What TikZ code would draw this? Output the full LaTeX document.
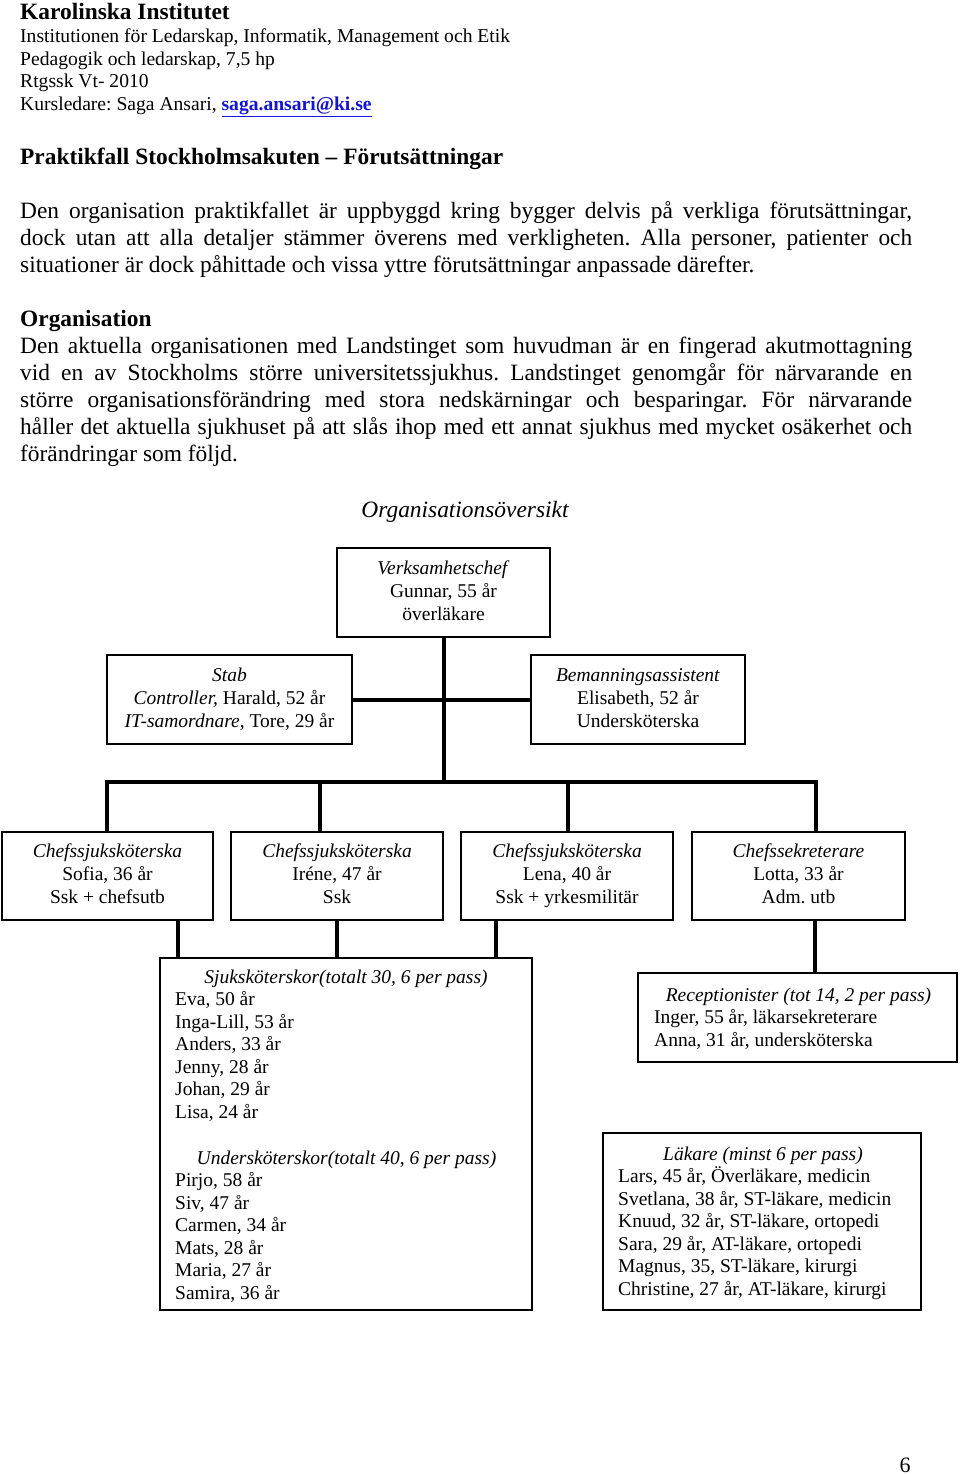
\documentclass[tikz,border=0pt]{standalone}
\usepackage{fontspec}
\setmainfont{Liberation Serif}
\frenchspacing
\newcommand\chartfont{\fontsize{19.5}{23}\selectfont}
\newcommand\bodyfont{\fontsize{23.4}{27}\selectfont}
\newcommand\headfont{\fontsize{19.6}{22.5}\selectfont}
\newcommand\jline[1]{\makebox[892pt][s]{#1}}
\definecolor{linkblue}{RGB}{20,20,210}
\tikzset{
  box/.style={draw, line width=1.5pt, inner sep=0pt, align=center, font=\chartfont},
  conn/.style={line width=4pt},
  txt/.style={anchor=base west, inner sep=0pt},
  ctxt/.style={anchor=base, inner sep=0pt},
}
\begin{document}
\begin{tikzpicture}[x=1pt,y=-1pt]
\useasboundingbox[fill=white] (0,0) rectangle (960,1474);
% header
\node[txt, font=\fontsize{23.4}{27}\selectfont\bfseries] (h1) at (20,20) {Karolinska Institutet};
\node[txt, font=\headfont] (h2) at (20,43) {Institutionen för Ledarskap, Informatik, Management och Etik};
\node[txt, font=\headfont] (h3) at (20,65.5) {Pedagogik och ledarskap, 7,5 hp};
\node[txt, font=\headfont] (h4) at (20,88) {Rtgssk Vt- 2010};
\node[txt, font=\headfont] (h5) at (20,110.5) {Kursledare: Saga Ansari, \textcolor{linkblue}{\underline{\textbf{saga.ansari@ki.se}}}};
\node[txt, font=\bodyfont\bfseries] (t1) at (20,164.5) {Praktikfall Stockholmsakuten – Förutsättningar};
\node[txt, font=\bodyfont] (p1) at (20,218.5) {\jline{Den organisation praktikfallet är uppbyggd kring bygger delvis på verkliga förutsättningar,}};
\node[txt, font=\bodyfont] (p2) at (20,245.5) {\jline{dock utan att alla detaljer stämmer överens med verkligheten. Alla personer, patienter och}};
\node[txt, font=\bodyfont] (p3) at (20,272.5) {situationer är dock påhittade och vissa yttre förutsättningar anpassade därefter.};
\node[txt, font=\bodyfont\bfseries] (t2) at (20,326.5) {Organisation};
\node[txt, font=\bodyfont] (q1) at (20,353.5) {\jline{Den aktuella organisationen med Landstinget som huvudman är en fingerad akutmottagning}};
\node[txt, font=\bodyfont] (q2) at (20,380.5) {\jline{vid en av Stockholms större universitetssjukhus. Landstinget genomgår för närvarande en}};
\node[txt, font=\bodyfont] (q3) at (20,407.5) {\jline{större organisationsförändring med stora nedskärningar och besparingar. För närvarande}};
\node[txt, font=\bodyfont] (q4) at (20,434.5) {\jline{håller det aktuella sjukhuset på att slås ihop med ett annat sjukhus med mycket osäkerhet och}};
\node[txt, font=\bodyfont] (q5) at (20,461.5) {förändringar som följd.};
\node[ctxt, font=\bodyfont\itshape] (ov) at (465,517.5) {Organisationsöversikt};
% chart boxes
\node[box, minimum width=213pt, minimum height=89pt] (vc) at (443.5,592.5) {\strut\textit{Verksamhetschef}\\Gunnar, 55 år\\överläkare\strut};
\node[box, minimum width=245pt, minimum height=89pt] (stab) at (229.5,699.5) {\strut\textit{Stab}\\\textit{Controller,} Harald, 52 år\\\textit{IT-samordnare,} Tore, 29 år\strut};
\node[box, minimum width=214pt, minimum height=89pt] (beman) at (638,699.5) {\strut\textit{Bemanningsassistent}\\Elisabeth, 52 år\\Undersköterska\strut};
\node[box, minimum width=211pt, minimum height=88pt] (c1) at (107.5,876) {\strut\textit{Chefssjuksköterska}\\Sofia, 36 år\\Ssk + chefsutb\strut};
\node[box, minimum width=212pt, minimum height=88pt] (c2) at (337,876) {\strut\textit{Chefssjuksköterska}\\Iréne, 47 år\\Ssk\strut};
\node[box, minimum width=212pt, minimum height=88pt] (c3) at (567,876) {\strut\textit{Chefssjuksköterska}\\Lena, 40 år\\Ssk + yrkesmilitär\strut};
\node[box, minimum width=213pt, minimum height=88pt] (c4) at (798.5,876) {\strut\textit{Chefssekreterare}\\Lotta, 33 år\\Adm. utb\strut};
\node[box, minimum width=372pt, minimum height=352pt] (sjuk) at (346,1134) {};
\node[box, minimum width=319pt, minimum height=89pt] (recep) at (797.5,1017.5) {};
\node[box, minimum width=318pt, minimum height=177pt] (lak) at (762,1221.5) {};
% texts in lower boxes
\begin{scope}[font=\chartfont]
\node[ctxt, font=\chartfont\itshape] (s0) at (346,983.5) {Sjuksköterskor(totalt 30, 6 per pass)};
\node[txt] (s1) at (175,1005.5) {Eva, 50 år};
\node[txt] (s2) at (175,1028) {Inga-Lill, 53 år};
\node[txt] (s3) at (175,1050.5) {Anders, 33 år};
\node[txt] (s4) at (175,1073) {Jenny, 28 år};
\node[txt] (s5) at (175,1095.5) {Johan, 29 år};
\node[txt] (s6) at (175,1118) {Lisa, 24 år};
\node[ctxt, font=\chartfont\itshape] (u0) at (346.5,1164) {Undersköterskor(totalt 40, 6 per pass)};
\node[txt] (u1) at (175,1186.5) {Pirjo, 58 år};
\node[txt] (u2) at (175,1209) {Siv, 47 år};
\node[txt] (u3) at (175,1231.5) {Carmen, 34 år};
\node[txt] (u4) at (175,1254) {Mats, 28 år};
\node[txt] (u5) at (175,1276.5) {Maria, 27 år};
\node[txt] (u6) at (175,1299) {Samira, 36 år};
\node[ctxt, font=\chartfont\itshape] (r0) at (798.5,1001.5) {Receptionister (tot 14, 2 per pass)};
\node[txt] (r1) at (654,1023.5) {Inger, 55 år, läkarsekreterare};
\node[txt] (r2) at (654,1046) {Anna, 31 år, undersköterska};
\node[ctxt, font=\chartfont\itshape] (l0) at (763,1160.5) {Läkare (minst 6 per pass)};
\node[txt] (l1) at (618,1182.5) {Lars, 45 år, Överläkare, medicin};
\node[txt] (l2) at (618,1205) {Svetlana, 38 år, ST-läkare, medicin};
\node[txt] (l3) at (618,1227.5) {Knuud, 32 år, ST-läkare, ortopedi};
\node[txt] (l4) at (618,1250) {Sara, 29 år, AT-läkare, ortopedi};
\node[txt] (l5) at (618,1272.5) {Magnus, 35, ST-läkare, kirurgi};
\node[txt] (l6) at (618,1295) {Christine, 27 år, AT-läkare, kirurgi};
\end{scope}
% connectors
\coordinate (bar) at (443.5,782);
\coordinate (d1) at (107,782);
\coordinate (d2) at (320,782);
\coordinate (d3) at (568,782);
\coordinate (d4) at (816,782);
\draw[conn] (vc.south) -- (bar);
\draw[conn] (stab.east) -- (beman.west);
\draw[conn] (d1 |- c1.north) -- (d1) -- (d4) -- (d4 |- c4.north);
\draw[conn] (d2) -- (d2 |- c2.north);
\draw[conn] (d3) -- (d3 |- c3.north);
\coordinate (e1) at (178,0);
\coordinate (e2) at (337,0);
\coordinate (e3) at (496,0);
\coordinate (e4) at (815,0);
\draw[conn] (e1 |- c1.south) -- (e1 |- sjuk.north);
\draw[conn] (e2 |- c2.south) -- (e2 |- sjuk.north);
\draw[conn] (e3 |- c3.south) -- (e3 |- sjuk.north);
\draw[conn] (e4 |- c4.south) -- (e4 |- recep.north);
% page number
\node[ctxt, font=\fontsize{22}{26}\selectfont] (pg) at (905,1472) {6};
\end{tikzpicture}
\end{document}
